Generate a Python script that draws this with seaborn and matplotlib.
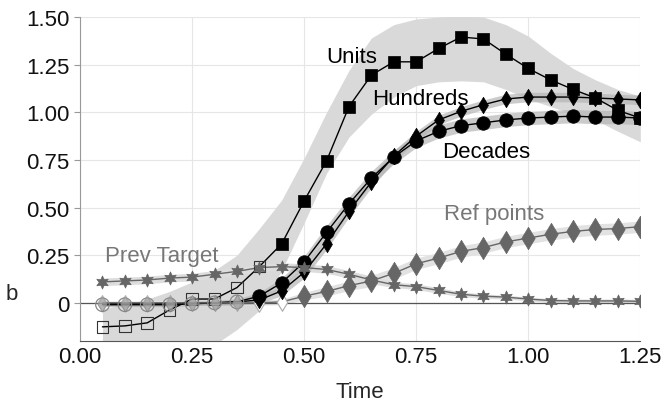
import numpy as np
import pandas as pd
import matplotlib
matplotlib.use("Agg")
import matplotlib.pyplot as plt
import seaborn as sns

# tiempos (0.05 .. 1.25)
tiempo = [0.05, 0.10, 0.15, 0.20, 0.25, 0.30, 0.35, 0.40, 0.45, 0.50, 0.55, 0.60, 0.65,
          0.70, 0.75, 0.80, 0.85, 0.90, 0.95, 1.00, 1.05, 1.10, 1.15, 1.20, 1.25]

units = [-0.126, -0.121, -0.105, -0.037, 0.02, 0.02, 0.08, 0.19, 0.31, 0.535, 0.745, 1.03, 1.195,
         1.265, 1.265, 1.335, 1.395, 1.385, 1.305, 1.23, 1.17, 1.12, 1.075, 1.01, 0.97]
units_hi = [-0.03, -0.01, 0.02, 0.06, 0.11, 0.17, 0.25, 0.39, 0.54, 0.76, 1.0, 1.22, 1.39,
            1.46, 1.49, 1.50, 1.51, 1.50, 1.46, 1.40, 1.31, 1.23, 1.17, 1.12, 1.085]
units_lo = [-0.26, -0.26, -0.26, -0.26, -0.25, -0.22, -0.14, -0.04, 0.17, 0.42, 0.68, 0.87, 0.99,
            1.08, 1.14, 1.16, 1.165, 1.16, 1.12, 1.07, 1.03, 0.99, 0.96, 0.90, 0.845]

decades = [-0.01, -0.01, -0.01, -0.01, -0.005, 0.0, 0.005, 0.035, 0.105, 0.215, 0.37, 0.52, 0.655,
           0.765, 0.85, 0.90, 0.93, 0.945, 0.96, 0.97, 0.975, 0.98, 0.975, 0.975, 0.97]
decades_w = [0.01, 0.01, 0.01, 0.01, 0.01, 0.012, 0.015, 0.02, 0.025, 0.03, 0.035, 0.035, 0.035,
             0.035, 0.035, 0.035, 0.035, 0.035, 0.035, 0.035, 0.035, 0.035, 0.035, 0.035, 0.035]

hundreds = [-0.005, -0.005, -0.005, -0.005, 0.0, 0.0, 0.005, 0.015, 0.063, 0.16, 0.31, 0.48, 0.635,
            0.77, 0.875, 0.96, 1.005, 1.04, 1.07, 1.08, 1.08, 1.08, 1.075, 1.07, 1.065]
hundreds_w = [0.01, 0.01, 0.01, 0.01, 0.01, 0.012, 0.015, 0.02, 0.025, 0.03, 0.03, 0.03, 0.03,
              0.03, 0.025, 0.025, 0.025, 0.025, 0.025, 0.025, 0.025, 0.025, 0.025, 0.025, 0.025]

ref_points = [0.0, 0.0, 0.0, 0.0, 0.0, 0.0, 0.0, 0.0, 0.005, 0.035, 0.06, 0.09, 0.115,
              0.155, 0.205, 0.235, 0.27, 0.29, 0.32, 0.34, 0.36, 0.375, 0.385, 0.39, 0.40]
ref_w = [0.01, 0.01, 0.01, 0.01, 0.01, 0.01, 0.01, 0.012, 0.015, 0.02, 0.025, 0.025, 0.03,
         0.03, 0.03, 0.03, 0.03, 0.03, 0.03, 0.03, 0.03, 0.03, 0.03, 0.03, 0.03]

prev_target = [0.11, 0.115, 0.12, 0.13, 0.135, 0.15, 0.165, 0.185, 0.19, 0.185, 0.175, 0.15, 0.12,
               0.095, 0.085, 0.065, 0.045, 0.035, 0.03, 0.02, 0.012, 0.01, 0.01, 0.01, 0.008]
prev_w = [0.02, 0.02, 0.02, 0.02, 0.02, 0.02, 0.02, 0.02, 0.02, 0.02, 0.02, 0.02, 0.02,
          0.015, 0.015, 0.015, 0.012, 0.012, 0.01, 0.01, 0.01, 0.01, 0.01, 0.01, 0.01]

# puntos "abiertos" (no significativos)
units_open = 8
decades_open = 7
hundreds_open = 7
ref_faded = 7   # diamantes grises tenues
ref_open = 9    # 0.40 y 0.45 diamantes blancos

x_ticks = [0.0, 0.25, 0.5, 0.75, 1.0, 1.25]
x_labels = ["0.00", "0.25", "0.50", "0.75", "1.00", "1.25"]
y_ticks = [0, 0.25, 0.5, 0.75, 1.0, 1.25, 1.5]
y_labels = ["0", "0.25", "0.50", "0.75", "1.00", "1.25", "1.50"]

sns.set_theme(style="whitegrid")
plt.rcParams["font.family"] = ["Liberation Sans", "DejaVu Sans"]

fig, ax = plt.subplots(figsize=(6.67, 4.10), dpi=100)
fig.subplots_adjust(left=0.12, right=0.96, top=0.956, bottom=0.166)

t = np.array(tiempo)

# bandas
ax.fill_between(t, units_lo, units_hi, color="#d9d9d9", lw=0, zorder=1)
ax.fill_between(t, np.array(ref_points) - ref_w, np.array(ref_points) + ref_w,
                color="#e2e2e2", lw=0, zorder=1)
ax.fill_between(t, np.array(prev_target) - prev_w, np.array(prev_target) + prev_w,
                color="#dddddd", lw=0, zorder=1)
ax.fill_between(t, np.array(decades) - decades_w, np.array(decades) + decades_w,
                color="#b5b5b5", alpha=0.7, lw=0, zorder=1)
ax.fill_between(t, np.array(hundreds) - hundreds_w, np.array(hundreds) + hundreds_w,
                color="#b5b5b5", alpha=0.7, lw=0, zorder=1)

ax.axhline(0, color="#555555", lw=0.9, zorder=1.5)

gris = "#666666"

# lineas
for vals, col in [(units, "black"), (decades, "black"), (hundreds, "black"),
                  (ref_points, gris), (prev_target, gris)]:
    sns.lineplot(x=t, y=vals, color=col, lw=1.0, ax=ax, zorder=2)

# marcadores abiertos / tenues
sns.scatterplot(x=t[:units_open], y=units[:units_open], marker="s", s=70, facecolor="none",
                edgecolor="#333333", linewidth=0.8, ax=ax, zorder=3)
sns.scatterplot(x=t[:decades_open], y=decades[:decades_open], marker="o", s=95, facecolor="none",
                edgecolor="#888888", linewidth=0.9, ax=ax, zorder=3)
sns.scatterplot(x=t[:hundreds_open], y=hundreds[:hundreds_open], marker="d", s=60, color="#999999",
                alpha=0.6, edgecolor="#777777", linewidth=0.6, ax=ax, zorder=3)
sns.scatterplot(x=t[:ref_faded], y=ref_points[:ref_faded], marker="d", s=70, color="#aaaaaa",
                alpha=0.5, edgecolor="#888888", linewidth=0.6, ax=ax, zorder=3)
sns.scatterplot(x=t[ref_faded:ref_open], y=ref_points[ref_faded:ref_open], marker="d", s=80,
                facecolor="white", edgecolor="#aaaaaa", linewidth=0.8, ax=ax, zorder=3)

# marcadores llenos
sns.scatterplot(x=t[units_open:], y=units[units_open:], marker="s", s=70, color="black",
                edgecolor="black", linewidth=0.5, ax=ax, zorder=4)
sns.scatterplot(x=t[decades_open:], y=decades[decades_open:], marker="o", s=95, color="black",
                edgecolor="black", linewidth=0.5, ax=ax, zorder=4)
sns.scatterplot(x=t[hundreds_open:], y=hundreds[hundreds_open:], marker="d", s=70, color="black",
                edgecolor="black", linewidth=0.5, ax=ax, zorder=4)
sns.scatterplot(x=t[ref_open:], y=ref_points[ref_open:], marker="d", s=130, color=gris,
                edgecolor=gris, linewidth=0.5, ax=ax, zorder=4)
sns.scatterplot(x=t, y=prev_target, marker=(6, 1, 0), s=90, color=gris,
                edgecolor=gris, linewidth=0.5, ax=ax, zorder=4)

# etiquetas
ax.text(0.605, 1.264, "Units", fontsize=16, ha="center", va="baseline", color="black", zorder=5)
ax.text(0.759, 1.043, "Hundreds", fontsize=16, ha="center", va="baseline", color="black", zorder=5)
ax.text(0.906, 0.766, "Decades", fontsize=16, ha="center", va="baseline", color="black", zorder=5)
ax.text(0.924, 0.44, "Ref points", fontsize=16, ha="center", va="baseline", color="#777777", zorder=5)
ax.text(0.183, 0.22, "Prev Target", fontsize=16, ha="center", va="baseline", color="#777777", zorder=5)

ax.set_xlim(0, 1.25)
ax.set_ylim(-0.2, 1.5)
ax.set_xticks(x_ticks)
ax.set_xticklabels(x_labels)
ax.set_yticks(y_ticks)
ax.set_yticklabels(y_labels)
ax.tick_params(axis="both", labelsize=16, colors="#111111")
ax.tick_params(axis="y", length=4, width=0.8, color="#999999", left=True)
ax.tick_params(axis="x", length=0)
ax.grid(True, color="#e6e6e6", lw=0.8)
for s in ["top", "right"]:
    ax.spines[s].set_visible(False)
ax.spines["left"].set_color("#999999")
ax.spines["bottom"].set_color("#555555")
ax.spines["left"].set_linewidth(0.8)
ax.spines["bottom"].set_linewidth(0.8)

ax.set_xlabel("Time", fontsize=16, labelpad=10)
ax.set_ylabel("b", fontsize=16, rotation=0, va="center", ha="center")
ax.yaxis.set_label_coords(-0.121, 0.145)

fig.savefig("out.png", dpi=100)
